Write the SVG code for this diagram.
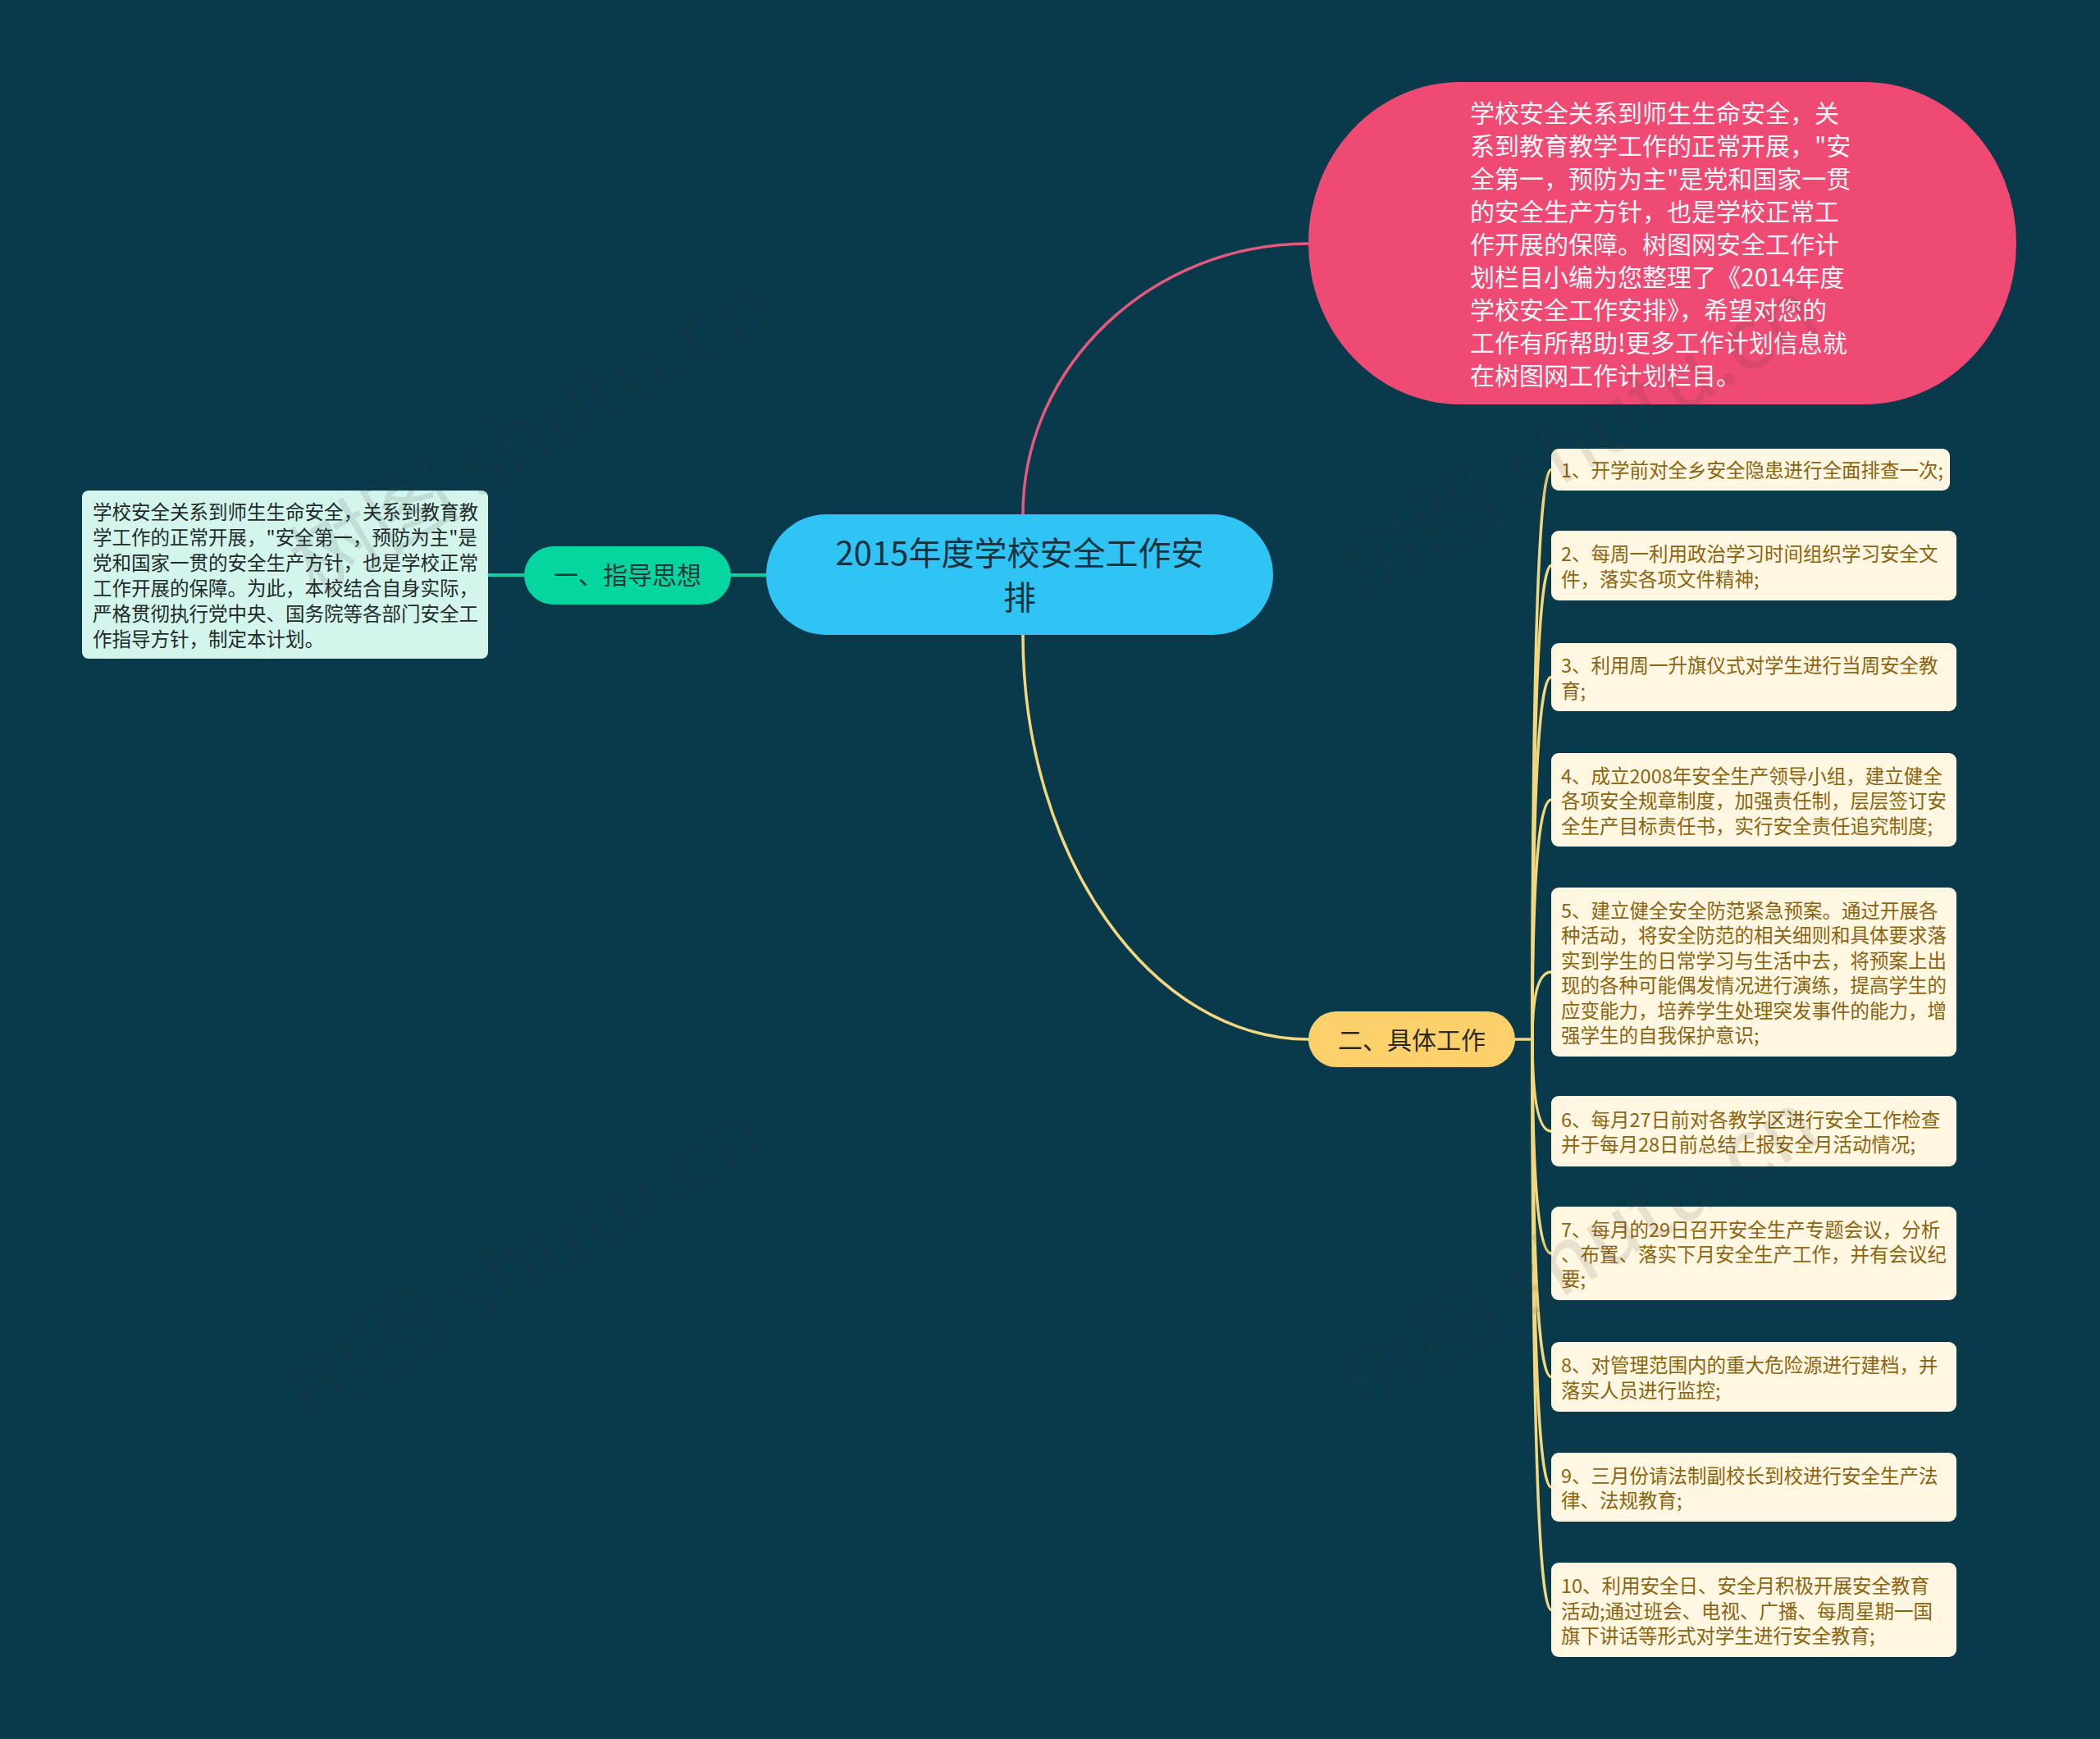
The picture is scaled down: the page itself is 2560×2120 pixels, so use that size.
<svg xmlns="http://www.w3.org/2000/svg" width="2560" height="2120" viewBox="0 0 2560 2120">
<style>
text{font-family:"Noto Sans CJK SC","Noto Sans",sans-serif;dominant-baseline:central}
.wm{font-size:105px;fill:#3a3a3a;fill-opacity:0.12}
.conn{fill:none;stroke-linecap:round}
.pinkc{stroke:#e6587e;stroke-width:3.5}
.yelc{stroke:#f3d77e;stroke-width:3.5}
.tealc{stroke:#10cfa0;stroke-width:4}
.item rect{fill:#fff7e1}
.item text{font-size:23.5px;fill:#8e6410}
.lbox{fill:#d3f5ec}
.ltxt{font-size:23.5px;fill:#222a2a}
</style>
<rect x="0" y="0" width="2560" height="2120" fill="#083a4c"/>

<g id="connectors">
  <path class="conn tealc" d="M595 701 H639"/>
  <path class="conn tealc" d="M891 701 H934"/>
  <path class="conn pinkc" d="M1247 627 C1247 446 1404 297 1595 297"/>
  <path class="conn yelc" d="M1247 774 C1247 1045 1404 1267 1595 1267"/>
  <path class="conn yelc" d="M1847 1267 H1868"/>
  <path class="conn yelc" d="M1868 1267 Q1868 572.5 1891 572.5"/>
  <path class="conn yelc" d="M1868 1267 Q1868 689.5 1891 689.5"/>
  <path class="conn yelc" d="M1868 1267 Q1868 825.5 1891 825.5"/>
  <path class="conn yelc" d="M1868 1267 Q1868 975 1891 975"/>
  <path class="conn yelc" d="M1868 1267 Q1868 1185 1891 1185"/>
  <path class="conn yelc" d="M1868 1267 Q1868 1379 1891 1379"/>
  <path class="conn yelc" d="M1868 1267 Q1868 1528 1891 1528"/>
  <path class="conn yelc" d="M1868 1267 Q1868 1678.5 1891 1678.5"/>
  <path class="conn yelc" d="M1868 1267 Q1868 1813 1891 1813"/>
  <path class="conn yelc" d="M1868 1267 Q1868 1962.5 1891 1962.5"/>
</g>

<g id="root">
  <rect x="934" y="627" width="618" height="147" rx="73.5" fill="#2fc4f3"/>
  <text x="1243" y="672" text-anchor="middle" font-size="40" fill="#17323f">2015年度学校安全工作安</text>
  <text x="1243" y="726" text-anchor="middle" font-size="40" fill="#17323f">排</text>
</g>

<g id="intro">
  <rect x="1595" y="100" width="863" height="393" rx="185" ry="196" fill="#ef4a73"/>
  <text font-size="30" fill="#fff6f8">
    <tspan x="1792" y="136">学校安全关系到师生生命安全，关</tspan>
    <tspan x="1792" y="176">系到教育教学工作的正常开展，"安</tspan>
    <tspan x="1792" y="216">全第一，预防为主"是党和国家一贯</tspan>
    <tspan x="1792" y="256">的安全生产方针，也是学校正常工</tspan>
    <tspan x="1792" y="296">作开展的保障。树图网安全工作计</tspan>
    <tspan x="1792" y="336">划栏目小编为您整理了《2014年度</tspan>
    <tspan x="1792" y="376">学校安全工作安排》，希望对您的</tspan>
    <tspan x="1792" y="416">工作有所帮助!更多工作计划信息就</tspan>
    <tspan x="1792" y="456">在树图网工作计划栏目。</tspan>
  </text>
</g>

<g id="branch1">
  <rect x="639" y="666" width="252" height="71" rx="35.5" fill="#05d6a0"/>
  <text x="765" y="699" text-anchor="middle" font-size="30" fill="#1b3838">一、指导思想</text>
</g>

<g id="branch1-text">
  <rect class="lbox" x="100" y="598" width="495" height="205" rx="8"/>
  <text class="ltxt">
    <tspan x="113" y="623">学校安全关系到师生生命安全，关系到教育教</tspan>
    <tspan x="113" y="654">学工作的正常开展，"安全第一，预防为主"是</tspan>
    <tspan x="113" y="685">党和国家一贯的安全生产方针，也是学校正常</tspan>
    <tspan x="113" y="716">工作开展的保障。为此，本校结合自身实际，</tspan>
    <tspan x="113" y="747">严格贯彻执行党中央、国务院等各部门安全工</tspan>
    <tspan x="113" y="778">作指导方针，制定本计划。</tspan>
  </text>
</g>

<g id="branch2">
  <rect x="1595" y="1233" width="252" height="68" rx="34" fill="#fcd16b"/>
  <text x="1721" y="1266" text-anchor="middle" font-size="30" fill="#2a2a20">二、具体工作</text>
</g>

<g id="item1" class="item">
  <rect x="1891" y="547" width="486" height="51" rx="9"/>
  <text><tspan x="1903" y="572">1、开学前对全乡安全隐患进行全面排查一次;</tspan></text>
</g>
<g id="item2" class="item">
  <rect x="1891" y="647" width="494" height="85" rx="9"/>
  <text><tspan x="1903" y="674">2、每周一利用政治学习时间组织学习安全文</tspan><tspan x="1903" y="704.5">件，落实各项文件精神;</tspan></text>
</g>
<g id="item3" class="item">
  <rect x="1891" y="784" width="494" height="83" rx="9"/>
  <text><tspan x="1903" y="810">3、利用周一升旗仪式对学生进行当周安全教</tspan><tspan x="1903" y="840.5">育;</tspan></text>
</g>
<g id="item4" class="item">
  <rect x="1891" y="918" width="494" height="114" rx="9"/>
  <text><tspan x="1903" y="944.5">4、成立2008年安全生产领导小组，建立健全</tspan><tspan x="1903" y="975">各项安全规章制度，加强责任制，层层签订安</tspan><tspan x="1903" y="1005.5">全生产目标责任书，实行安全责任追究制度;</tspan></text>
</g>
<g id="item5" class="item">
  <rect x="1891" y="1082" width="494" height="206" rx="9"/>
  <text><tspan x="1903" y="1109">5、建立健全安全防范紧急预案。通过开展各</tspan><tspan x="1903" y="1139.4">种活动，将安全防范的相关细则和具体要求落</tspan><tspan x="1903" y="1169.8">实到学生的日常学习与生活中去，将预案上出</tspan><tspan x="1903" y="1200.2">现的各种可能偶发情况进行演练，提高学生的</tspan><tspan x="1903" y="1230.6">应变能力，培养学生处理突发事件的能力，增</tspan><tspan x="1903" y="1261">强学生的自我保护意识;</tspan></text>
</g>
<g id="item6" class="item">
  <rect x="1891" y="1336" width="494" height="86" rx="9"/>
  <text><tspan x="1903" y="1364">6、每月27日前对各教学区进行安全工作检查</tspan><tspan x="1903" y="1394.4">并于每月28日前总结上报安全月活动情况;</tspan></text>
</g>
<g id="item7" class="item">
  <rect x="1891" y="1471" width="494" height="114" rx="9"/>
  <text><tspan x="1903" y="1497.6">7、每月的29日召开安全生产专题会议，分析</tspan><tspan x="1903" y="1528">、布置、落实下月安全生产工作，并有会议纪</tspan><tspan x="1903" y="1558.4">要;</tspan></text>
</g>
<g id="item8" class="item">
  <rect x="1891" y="1636" width="494" height="85" rx="9"/>
  <text><tspan x="1903" y="1663.3">8、对管理范围内的重大危险源进行建档，并</tspan><tspan x="1903" y="1693.7">落实人员进行监控;</tspan></text>
</g>
<g id="item9" class="item">
  <rect x="1891" y="1771" width="494" height="84" rx="9"/>
  <text><tspan x="1903" y="1797.8">9、三月份请法制副校长到校进行安全生产法</tspan><tspan x="1903" y="1828.2">律、法规教育;</tspan></text>
</g>
<g id="item10" class="item">
  <rect x="1891" y="1905" width="494" height="115" rx="9"/>
  <text><tspan x="1903" y="1932.1">10、利用安全日、安全月积极开展安全教育</tspan><tspan x="1903" y="1962.5">活动;通过班会、电视、广播、每周星期一国</tspan><tspan x="1903" y="1992.9">旗下讲话等形式对学生进行安全教育;</tspan></text>
</g>

<g id="watermarks">
  <text class="wm" x="360" y="690" transform="rotate(-31 360 690)">树图 shutu.cn</text>
  <text class="wm" x="350" y="1700" transform="rotate(-31 350 1700)">树图 shutu.cn</text>
  <text class="wm" x="1635" y="700" transform="rotate(-31 1635 700)">树图 shutu.cn</text>
  <text class="wm" x="1635" y="1690" transform="rotate(-31 1635 1690)">树图 shutu.cn</text>
</g>
</svg>
